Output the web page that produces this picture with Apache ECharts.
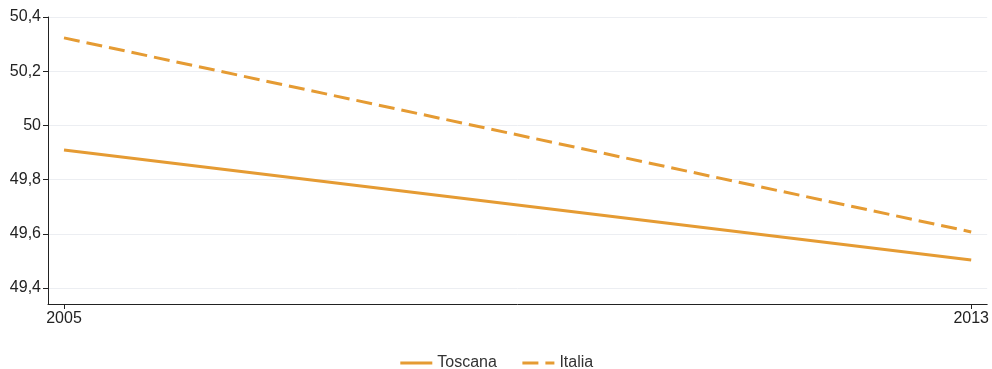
<!DOCTYPE html>
<html><head><meta charset="utf-8">
<script src="https://cdn.jsdelivr.net/npm/echarts@6/dist/echarts.min.js"></script>
<style>html,body{margin:0;padding:0;background:#fff}#c{width:992px;height:369px}</style>
</head><body><div id="c"></div>
<script>
const years = [2005, 2013];
const toscana = [49.909, 49.503];
const italia = [50.323, 49.607];
const yTicks = [49.4, 49.6, 49.8, 50.0, 50.2, 50.4];
const color = '#e59b33';
const fmt = v => (Math.round(v*10)/10).toString().replace('.', ',');
const chart = echarts.init(document.getElementById('c'));
chart.setOption({
  animation: false,
  grid: {left: 48, right: 4, top: 17, bottom: 65},
  legend: {
    top: 350, left: 'center', itemWidth: 32, itemHeight: 14, itemGap: 24,
    itemStyle: {opacity: 0},
    lineStyle: {width: 3},
    textStyle: {fontFamily: 'Liberation Sans, Arial', fontSize: 16, color: '#333'},
    data: ['Toscana', 'Italia']
  },
  xAxis: {
    type: 'value', min: 2004.859, max: 2013.141,
    axisLine: {lineStyle: {color: '#222', width: 1}},
    axisTick: {customValues: years, length: 5, lineStyle: {color: '#222'}},
    axisLabel: {customValues: years, fontFamily: 'Liberation Sans, Arial', fontSize: 16, color: '#222', margin: 7, formatter: v => String(v)},
    splitLine: {show: false}
  },
  yAxis: {
    type: 'value', min: 49.341, max: 50.4,
    axisLine: {show: true, lineStyle: {color: '#222', width: 1}},
    axisTick: {show: true, customValues: yTicks, length: 5, lineStyle: {color: '#222'}},
    axisLabel: {customValues: yTicks, fontFamily: 'Liberation Sans, Arial', fontSize: 16, color: '#222', margin: 7, formatter: fmt},
    splitLine: {show: true, lineStyle: {color: '#eceef2', width: 1}}
  },
  series: [
    {name: 'Toscana', type: 'line', data: years.map((y,i)=>[y, toscana[i]]), symbol: 'none', lineStyle: {color: color, width: 3}, itemStyle: {color: color}},
    {name: 'Italia', type: 'line', data: years.map((y,i)=>[y, italia[i]]), symbol: 'none', lineStyle: {color: color, width: 3, type: [16, 7]}, itemStyle: {color: color}}
  ]
});
</script></body></html>
